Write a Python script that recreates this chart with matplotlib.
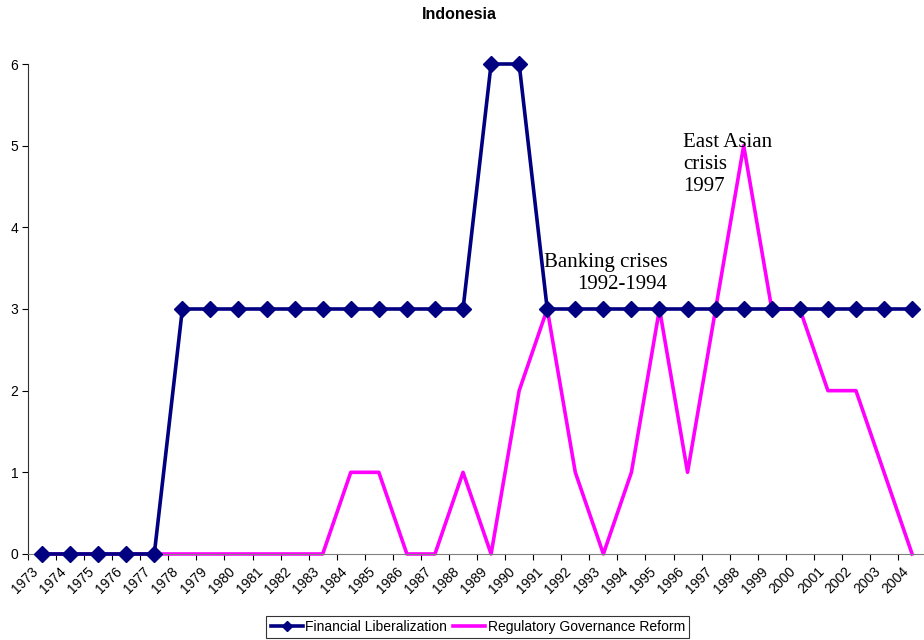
import numpy as np
import matplotlib
matplotlib.use("Agg")
import matplotlib.pyplot as plt
from matplotlib.transforms import ScaledTranslation

years = [str(y) for y in range(1973, 2005)]
financial_lib = [0, 0, 0, 0, 0,
                 3, 3, 3, 3, 3, 3, 3, 3, 3, 3, 3,
                 6, 6,
                 3, 3, 3, 3, 3, 3, 3, 3, 3, 3, 3, 3, 3, 3]
reg_reform = [0, 0, 0, 0, 0, 0, 0, 0, 0, 0, 0,
              1, 1, 0, 0, 1, 0, 2, 3, 1, 0, 1, 3, 1, 3, 5, 3, 3, 2, 2, 1, 0]

plt.rcParams['font.family'] = ['Liberation Sans', 'DejaVu Sans']

fig = plt.figure(figsize=(9.24, 6.4), dpi=100)
ax = fig.add_axes([0.0303, 0.1344, 0.972, 0.7656])

x = np.arange(len(years))
ax.plot(x, reg_reform, color='#FF00FF', lw=2.6, zorder=2, clip_on=False,
        label='Regulatory Governance Reform')
ax.plot(x, financial_lib, color='#000080', lw=2.6, marker='D', markersize=8,
        zorder=3, clip_on=False, label='Financial Liberalization')

ax.set_xlim(-0.5, len(years) - 0.5)
ax.set_ylim(0, 6)
ax.set_yticks(range(7))
ax.tick_params(axis='y', labelsize=10, length=4, width=0.8, pad=3)

# category labels centred on points, tick marks on category boundaries
ax.set_xticks(x)
ax.set_xticklabels(years, rotation=45, ha='right', va='center',
                   rotation_mode='anchor', fontsize=10)
ax.tick_params(axis='x', which='major', length=0, pad=11)
shift = ScaledTranslation(-6 / 100, 0, fig.dpi_scale_trans)
for lbl in ax.get_xticklabels():
    lbl.set_transform(lbl.get_transform() + shift)
ax.set_xticks(np.arange(len(years) + 1) - 0.5, minor=True)
ax.tick_params(axis='x', which='minor', length=4, width=0.8)

for s in ['top', 'right']:
    ax.spines[s].set_visible(False)
ax.spines['left'].set_color('#303030')
ax.spines['bottom'].set_color('#808080')

fig.text(0.497, 0.978, 'Indonesia', ha='center', va='center',
         fontsize=11.5, fontweight='bold')

ax.text(22.28, 3.68, 'Banking crises\n1992-1994', ha='right', va='top',
        multialignment='right', family='Liberation Serif', fontsize=15)
ax.text(22.85, 5.15, 'East Asian\ncrisis\n1997', ha='left', va='top',
        family='Liberation Serif', fontsize=15)

h, l = ax.get_legend_handles_labels()
leg = fig.legend(h[::-1], l[::-1], loc='center', bbox_to_anchor=(0.517, 0.02),
                 ncol=2, fontsize=10, frameon=True, fancybox=False,
                 edgecolor='black', handlelength=2.3, columnspacing=0.4,
                 handletextpad=0.2, borderpad=0.3, borderaxespad=0,
                 markerscale=0.7)
leg.get_frame().set_linewidth(0.8)

fig.savefig('out.png', dpi=100, facecolor='white')
